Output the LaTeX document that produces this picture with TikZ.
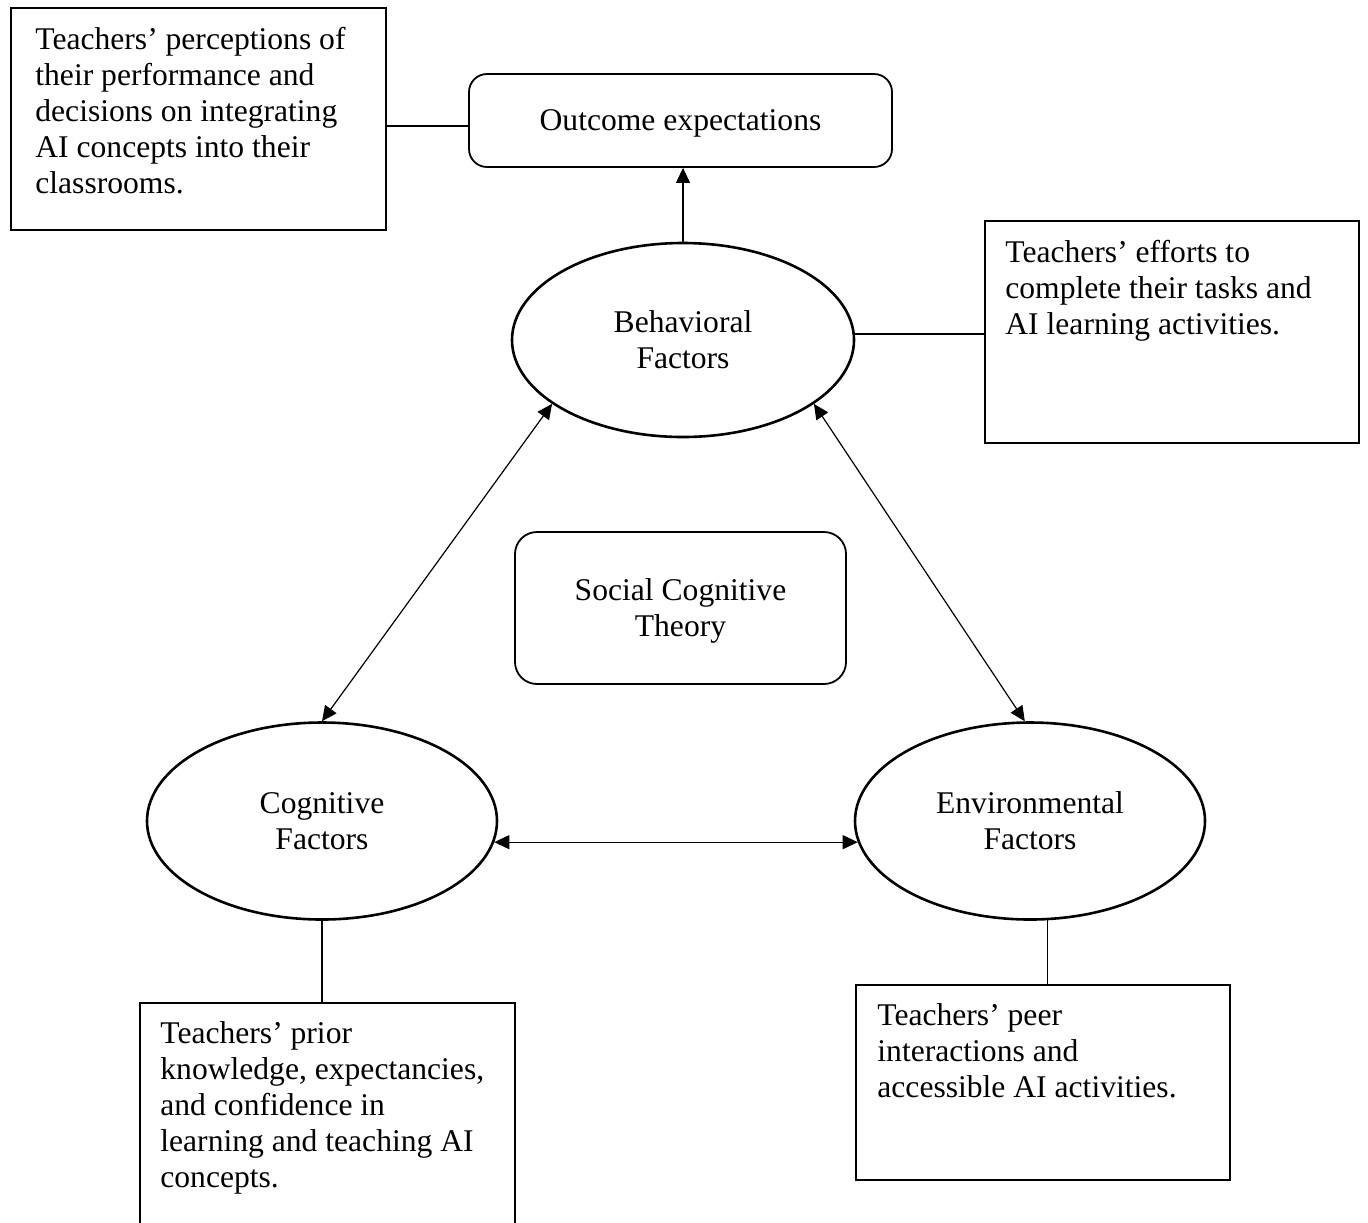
\documentclass[tikz,border=0pt]{standalone}
\usepackage{fontspec}
\setmainfont{Liberation Serif}
\usetikzlibrary{shapes.geometric,arrows.meta,calc}
\begin{document}
\begin{tikzpicture}[x=0.5pt,y=-0.5pt,
  every node/.style={font=\fontsize{15.8}{18}\selectfont},
  box/.style={draw, line width=0.8pt, inner sep=0pt},
  rbox/.style={draw, line width=0.9pt, rounded corners=9pt, inner sep=0pt, text depth=0pt},
  factor/.style={draw, ellipse, line width=1.3pt, inner sep=0pt, align=center},
  note/.style={anchor=north west, align=left, inner sep=0pt},
  link/.style={line width=0.6pt},
  both/.style={line width=0.6pt, {Triangle[length=7.5pt,width=7pt]}-{Triangle[length=7.5pt,width=7pt]}},
  tip/.style={line width=0.6pt, -{Triangle[length=7.5pt,width=7pt]}}]
\useasboundingbox (0,0) rectangle (1368,1222);
\clip (0,0) rectangle (1368,1222);

% outcome box and its description
\node[rbox, minimum width=211.5pt, minimum height=46.5pt] (out) at (680.5,120.5) {Outcome expectations};
\node[box, minimum width=187.5pt, minimum height=111pt] (tlbox) at (198.5,119) {};
\node[note] (tltext) at (35,27) {Teachers’ perceptions of\\their performance and\\decisions on integrating\\AI concepts into their\\classrooms.};

% the three factors
\node[factor, minimum width=171pt, minimum height=97pt] (beh) at (683,340) {Behavioral\\Factors};
\node[factor, minimum width=175pt, minimum height=98.5pt] (cog) at (322,821) {Cognitive\\Factors};
\node[factor, minimum width=175pt, minimum height=98.5pt] (env) at (1030,821) {Environmental\\Factors};

% centre label
\node[rbox, rounded corners=11pt, minimum width=165.5pt, minimum height=76pt, align=center] (sct) at (680.5,608) {Social Cognitive\\Theory};

% descriptions of the factors
\node[box, minimum width=187pt, minimum height=111pt] (trbox) at (1172,332) {};
\node[note] (trtext) at (1005,240) {Teachers’ efforts to\\complete their tasks and\\AI learning activities.};

\node[box, minimum width=187.5pt, minimum height=135pt] (blbox) at (327.5,1138) {};
\node[note] (bltext) at (160,1021) {Teachers’ prior\\knowledge, expectancies,\\and confidence in\\learning and teaching AI\\concepts.};

\node[box, minimum width=187pt, minimum height=97.5pt] (brbox) at (1043,1082.5) {};
\node[note] (brtext) at (877,1003) {Teachers’ peer\\interactions and\\accessible AI activities.};

% connectors
\coordinate (outl) at ($(out.west)+(0,5.5)$);
\draw[link] (outl) -- (outl -| tlbox.east);
\draw[tip] (beh.north) -- (beh.north |- out.south);
\draw[link] (beh.2) -- (beh.2 -| trbox.west);
\draw[both] (beh.206) -- (cog.north);
\draw[both] (beh.334) -- (env.93);
\draw[both] (cog.-7) -- (env.187);
\draw[link] (cog.south) -- (cog.south |- blbox.north);
\draw[link] (env.-80) -- (env.-80 |- brbox.north);
\end{tikzpicture}
\end{document}
